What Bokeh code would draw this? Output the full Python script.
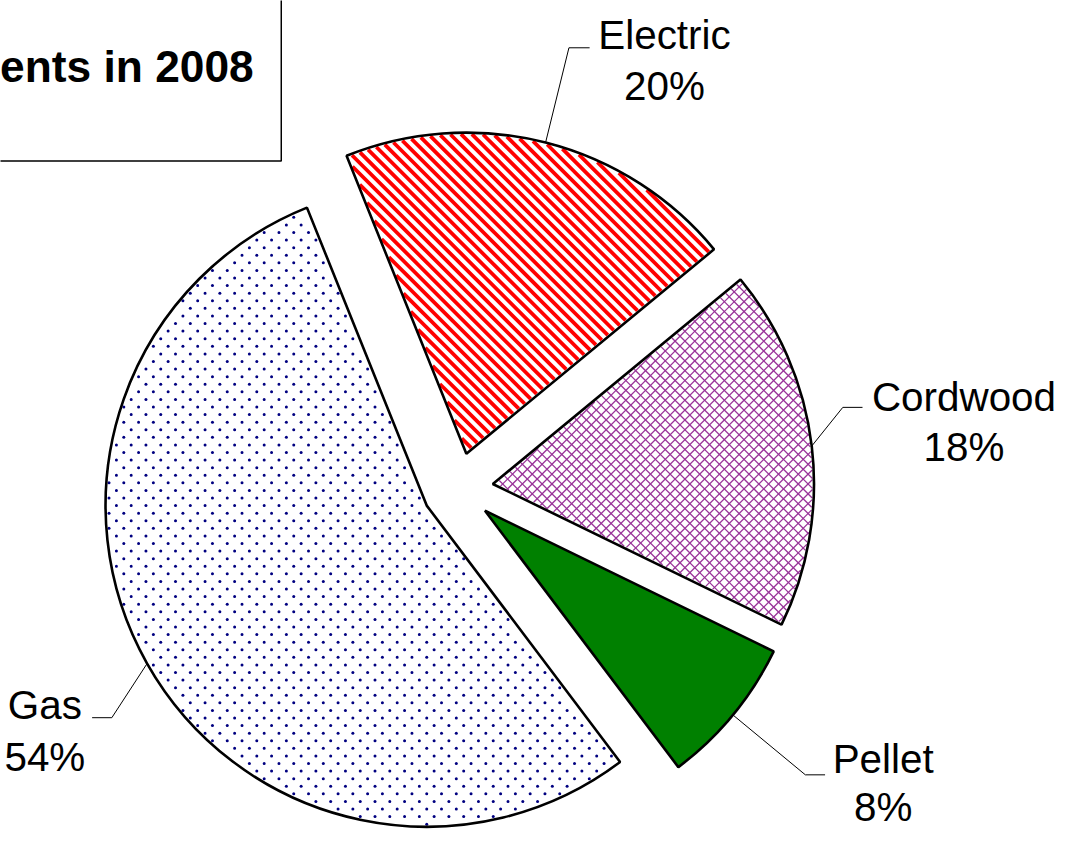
import math
from bokeh.plotting import figure
from bokeh.models import Range1d
from bokeh.core.properties import value
from bokeh.embed import file_html
from bokeh.resources import INLINE

# ---------------- data ----------------
categories = ["Electric", "Cordwood", "Pellet", "Gas"]
shares = [20.1, 18.2, 7.5, 54.2]          # percent of total
pct_labels = ["20%", "18%", "8%", "54%"]
title_text = "ents in 2008"

# ---------------- layout (reference pixels, y downward) ----------------
W_REF, H_REF = 1078, 845
FIG_W, FIG_H = 1062, 829
S = FIG_W / W_REF                    # screen px per reference px
CX, CY = 464, 495        # pie centre
R = 326                  # radius
EXPLODE = 36             # explode distance
START_DEG = 111.9        # first slice's ccw edge; slices run clockwise

FONT = "Liberation Sans"
LABEL_PX = f"{41 * S:.1f}px"
TITLE_PX = f"{45 * S:.1f}px"

label_layout = {
    "Electric": dict(elbow=(577, 48), end=(598, 48), lx=674, b1=35, b2=87),
    "Cordwood": dict(elbow=(855, 413), end=(875, 413), lx=978, b1=402, b2=453),
    "Pellet":   dict(elbow=(817, 786), end=(837, 786), lx=896, b1=770, b2=819),
    "Gas":      dict(elbow=(113, 728), end=(93, 728), lx=45, b1=715, b2=768),
}

# pattern styles
patterns = {
    "Electric": dict(kind="back", color="#FF0000", period=11, weight=3.8),
    "Cordwood": dict(kind="cross", color="#993399", period=10, weight=1.3),
    "Pellet":   dict(kind="solid", color="#008000"),
    "Gas":      dict(kind="dots", color="#000080", dx=15, dy=7.7, size=3.0),
}


def fy(y):
    return H_REF - y


def clip_line_to_sector(p0, d, V, rad, a0, a1, inset):
    wx, wy = p0[0] - V[0], p0[1] - V[1]
    b = wx * d[0] + wy * d[1]
    c = wx * wx + wy * wy - (rad - inset) ** 2
    disc = b * b - c
    if disc <= 0:
        return None
    sq = math.sqrt(disc)
    lo, hi = -b - sq, -b + sq
    u0 = (math.cos(a0), math.sin(a0))
    u1 = (math.cos(a1), math.sin(a1))
    cons = [
        (u0[0] * wy - u0[1] * wx - inset, u0[0] * d[1] - u0[1] * d[0]),
        (wx * u1[1] - wy * u1[0] - inset, d[0] * u1[1] - d[1] * u1[0]),
    ]
    for f0, f1 in cons:
        if abs(f1) < 1e-12:
            if f0 < 0:
                return None
        else:
            t = -f0 / f1
            if f1 > 0:
                lo = max(lo, t)
            else:
                hi = min(hi, t)
    if hi <= lo:
        return None
    return lo, hi


def hatch_lines(V, rad, a0, a1, period, direction, inset=1.5):
    xs, ys = [], []
    k = 1 / math.sqrt(2)
    if direction == "back":      # screen "\" : x + y = c
        d = (k, -k)
        base = V[0] + V[1]
    else:                        # screen "/" : x - y = c
        d = (k, k)
        base = V[0] - V[1]
    n = int(rad * 1.5 / period) + 2
    for i in range(-n, n + 1):
        c = base + i * period
        p0 = (c - V[1], V[1]) if direction == "back" else (c + V[1], V[1])
        r = clip_line_to_sector(p0, d, V, rad, a0, a1, inset)
        if r is None:
            continue
        t0, t1 = r
        xs.append([p0[0] + t0 * d[0], p0[0] + t1 * d[0]])
        ys.append([p0[1] + t0 * d[1], p0[1] + t1 * d[1]])
    return xs, ys


def dots_in_sector(V, rad, a0, a1, dx, dy, inset=2.5):
    px, py = [], []
    rows = int(rad / dy) + 2
    cols = int(rad / dx) + 2
    u0 = (math.cos(a0), math.sin(a0))
    u1 = (math.cos(a1), math.sin(a1))
    for j in range(-rows, rows + 1):
        yy = V[1] + j * dy
        off = (j % 2) * dx / 2
        for i in range(-cols, cols + 1):
            xx = V[0] + i * dx + off
            wx, wy = xx - V[0], yy - V[1]
            if wx * wx + wy * wy > (rad - inset) ** 2:
                continue
            ang = math.atan2(wy, wx)
            rel = (ang - a0) % (2 * math.pi)
            if rel > (a1 - a0):
                continue
            if rel < math.pi / 2 and (u0[0] * wy - u0[1] * wx) < inset:
                continue
            if (a1 - a0 - rel) < math.pi / 2 and (wx * u1[1] - wy * u1[0]) < inset:
                continue
            px.append(xx)
            py.append(yy)
    return px, py


view_h = FIG_H / S
p = figure(width=FIG_W, height=FIG_H, output_backend="svg", toolbar_location=None,
           x_axis_location=None, y_axis_location=None,
           x_range=Range1d(0, W_REF), y_range=Range1d(H_REF - view_h, H_REF),
           min_border=0, outline_line_color=None)
p.grid.visible = False
p.background_fill_color = "white"
p.border_fill_color = "white"

# title box (partly outside the view)
p.quad(left=-40, right=285, top=fy(-40), bottom=fy(163),
       fill_color="white", line_color="black", line_width=1.5)
p.text(x=[257], y=[fy(67)], text=[title_text], text_font=value(FONT),
       text_font_size=TITLE_PX, text_font_style="bold", text_align="right",
       text_baseline="alphabetic", text_color="black")

# slices
cur = START_DEG
for cat, share, pl in zip(categories, shares, pct_labels):
    end = cur
    start = cur - share * 3.6
    cur = start
    a0, a1 = math.radians(start), math.radians(end)
    mid = (a0 + a1) / 2
    vx = CX + EXPLODE * math.cos(mid)
    vy = fy(CY) + EXPLODE * math.sin(mid)
    pat = patterns[cat]
    fill = pat["color"] if pat["kind"] == "solid" else "white"
    p.wedge(x=[vx], y=[vy], radius=R, start_angle=a0, end_angle=a1,
            direction="anticlock", fill_color=fill, line_color=None)
    if pat["kind"] in ("back", "cross"):
        xs, ys = hatch_lines((vx, vy), R, a0, a1, pat["period"], "back")
        if pat["kind"] == "cross":
            xs2, ys2 = hatch_lines((vx, vy), R, a0, a1, pat["period"], "fwd")
            xs += xs2
            ys += ys2
        p.multi_line(xs=xs, ys=ys, line_color=pat["color"],
                     line_width=pat["weight"] * S)
    elif pat["kind"] == "dots":
        dxs, dys = dots_in_sector((vx, vy), R, a0, a1, pat["dx"], pat["dy"])
        p.scatter(x=dxs, y=dys, size=pat["size"], marker="circle",
                  fill_color=pat["color"], line_color=None)
    p.wedge(x=[vx], y=[vy], radius=R, start_angle=a0, end_angle=a1,
            direction="anticlock", fill_color=None, line_color="black",
            line_width=2.6)
    # leader line
    ax = vx + R * math.cos(mid)
    ay = vy + R * math.sin(mid)
    lay = label_layout[cat]
    ex, ey = lay["elbow"]
    nx, ny = lay["end"]
    p.line(x=[ax, ex, nx], y=[ay, fy(ey), fy(ny)], line_color="black", line_width=1)
    # label
    p.text(x=[lay["lx"], lay["lx"]], y=[fy(lay["b1"]), fy(lay["b2"])],
           text=[cat, pl], text_font=value(FONT), text_font_size=LABEL_PX,
           text_align="center", text_baseline="alphabetic", text_color="black")

open("out.html", "w").write(file_html(p, INLINE))
